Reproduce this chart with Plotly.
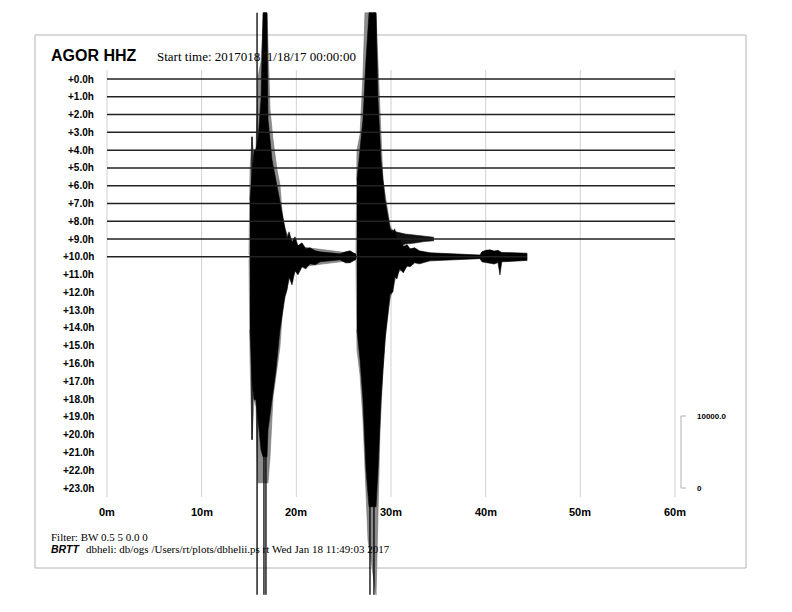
import plotly.graph_objects as go

# ---------------- data ----------------
station = "AGOR HHZ"
start_text = "Start time: 2017018\u00a0 1/18/17 00:00:00"
filter_text = "Filter: BW 0.5 5 0.0 0"
footer_bold = "BRTT"
footer_text = "dbheli: db/ogs /Users/rt/plots/dbhelii.ps rt Wed Jan 18 11:49:03 2017"

row_labels = ["+%.1fh" % h for h in range(24)]
x_ticks = [0, 10, 20, 30, 40, 50, 60]
x_tick_labels = ["0m", "10m", "20m", "30m", "40m", "50m", "60m"]

# each recorded row: start / end minute
row_start = [0] * 11
row_end = [60] * 10 + [44.37]

# scale bar (counts)
scale_counts = 10000.0
scale_labels = ["10000.0", "0"]

# row 10 outer (grey) envelope around the two events: minutes, up counts, down counts
g_t = [15.00, 15.11, 15.32, 15.53, 15.74, 15.95, 16.27, 16.58, 16.90, 17.01, 17.22,
       17.54, 17.96, 18.27, 18.59, 19.33, 20.39,
       26.30, 26.41, 26.73, 27.04, 27.25, 27.57, 28.42, 28.52, 28.84, 29.15, 29.47,
       29.89, 30.63, 32.01]
g_up = [280, 12080, 16670, 13470, 15280, 25000, 27080, 33890, 33890, 27780, 20420,
        16250, 12080, 10000, 4440, 2360, 1390,
        420, 14860, 16950, 25280, 33890, 33890, 33890, 30140, 19030, 10700, 7920,
        4440, 2080, 1110]
g_dn = [280, 14310, 25420, 19860, 20830, 31390, 31390, 31390, 31390, 31390, 27780,
        19450, 15700, 12500, 6250, 2780, 1390,
        420, 12920, 16390, 22640, 27780, 39310, 46950, 41670, 24030, 15700, 10140,
        5970, 2220, 1110]

# event 1 dense core + coda (black)
e1_t = [15.11, 15.32, 15.53, 15.74, 15.95, 16.27, 16.48, 16.90, 17.01, 17.43, 17.85,
        18.27, 18.80, 19.02, 19.23, 19.54, 19.86, 20.17, 20.60, 21.00, 21.44, 22.00,
        22.50, 24.61, 25.20, 25.67, 26.20, 26.30]
e1_up = [7920, 12080, 14860, 14860, 16250, 21810, 33890, 33890, 19030, 13470, 10700,
         7920, 4170, 2500, 3470, 2080, 2780, 1530, 1940, 1110, 1250, 830,
         690, 420, 690, 830, 420, 350]
e1_dn = [10140, 17080, 19860, 19860, 22640, 26810, 27780, 27780, 24030, 19860, 15700,
         10140, 5560, 4580, 2780, 3890, 1940, 2500, 1390, 1670, 970, 1110,
         690, 420, 830, 830, 420, 350]

# event 2 dense core + coda (black)
e2_t = [26.41, 26.73, 27.04, 27.36, 27.68, 28.42, 28.63, 28.94, 29.37, 29.89, 30.20,
        30.40, 30.63, 30.90, 31.30, 31.70, 32.01, 32.50, 33.00, 34.12, 37.61, 39.40,
        39.61, 40.00, 40.46, 40.90, 41.30, 41.51, 41.70, 42.04, 42.57, 43.30, 44.37]
e2_up = [10700, 14860, 19030, 27360, 33890, 33890, 21810, 13470, 7920, 4030, 3060,
         3890, 2080, 2500, 1390, 1670, 1110, 1250, 830, 560, 350, 250,
         700, 900, 970, 800, 900, 700, 600, 600, 560, 500, 500]
e2_dn = [10140, 14310, 19860, 29590, 34720, 34720, 29590, 19860, 11530, 5280, 4860,
         2780, 3060, 1670, 2220, 1250, 1390, 830, 970, 560, 350, 250,
         700, 800, 900, 1000, 800, 2500, 700, 700, 600, 600, 500]

# isolated full-height spikes (minutes, up counts, down counts)
sp_t = [15.32, 15.85, 16.58, 16.79, 27.78, 28.20]
sp_up = [16670, 33890, 33890, 33890, 33890, 33890]
sp_dn = [25420, 46950, 46950, 46950, 46950, 46950]

# row 9 coda
r9_t = [27.0, 28.0, 28.5, 29.5, 30.2, 30.6, 31.5, 32.5, 33.5, 34.5]
r9_up = [280, 1250, 1390, 1110, 1250, 970, 700, 560, 350, 250]
r9_dn = [280, 1250, 1250, 1250, 970, 1110, 700, 560, 350, 250]

# ---------------- geometry ----------------
W, H = 792, 612
px_per_min = 568 / 60.0
x0_px = 107
row0_px = 79
px_per_row = 409 / 23.0
counts_per_row = scale_counts / (72 / px_per_row)

x_range = [-x0_px / px_per_min, (W - x0_px) / px_per_min]
y_range = [(H - row0_px) / px_per_row, -row0_px / px_per_row]


def env(row, t, up, dn):
    xs = list(t) + list(t[::-1])
    ys = [row - u / counts_per_row for u in up] + [row + d / counts_per_row for d in dn[::-1]]
    return xs, ys


fig = go.Figure()

# grey outer envelope row 10
xs, ys = env(10, g_t, g_up, g_dn)
fig.add_trace(go.Scatter(x=xs, y=ys, fill="toself", fillcolor="#8c8c8c",
                         line=dict(color="#707070", width=0.6), mode="lines",
                         hoverinfo="skip", showlegend=False))
# row 9 coda
xs, ys = env(9, r9_t, r9_up, r9_dn)
fig.add_trace(go.Scatter(x=xs, y=ys, fill="toself", fillcolor="#111",
                         line=dict(color="#111", width=0.6), mode="lines",
                         hoverinfo="skip", showlegend=False))
# black cores
for t, u, d in [(e1_t, e1_up, e1_dn), (e2_t, e2_up, e2_dn)]:
    xs, ys = env(10, t, u, d)
    fig.add_trace(go.Scatter(x=xs, y=ys, fill="toself", fillcolor="#000",
                             line=dict(color="#000", width=0.6), mode="lines",
                             hoverinfo="skip", showlegend=False))
# isolated spikes
sx, sy = [], []
for t, u, d in zip(sp_t, sp_up, sp_dn):
    sx += [t, t, None]
    sy += [10 - u / counts_per_row, 10 + d / counts_per_row, None]
fig.add_trace(go.Scatter(x=sx, y=sy, mode="lines", line=dict(color="#000", width=1.3),
                         hoverinfo="skip", showlegend=False))

# baselines
bx, by = [], []
for r, (s, e) in enumerate(zip(row_start, row_end)):
    bx += [s, e, None]
    by += [r, r, None]
fig.add_trace(go.Scatter(x=bx, y=by, mode="lines", line=dict(color="#222", width=1.5),
                         hoverinfo="skip", showlegend=False))

shapes = []
# vertical gridlines
for t in x_ticks:
    shapes.append(dict(type="line", xref="x", yref="y", x0=t, x1=t,
                       y0=(70 - row0_px) / px_per_row, y1=(497 - row0_px) / px_per_row,
                       line=dict(color="#d2d2d2", width=1), layer="below"))
# frame
shapes.append(dict(type="rect", xref="paper", yref="paper",
                   x0=35 / W, x1=746 / W, y0=1 - 568 / H, y1=1 - 35 / H,
                   line=dict(color="#b4b4b4", width=1), layer="below"))
# scale bar
sb_x = (681 - x0_px) / px_per_min
sb_x2 = (686 - x0_px) / px_per_min
sb_top = 23 - scale_counts / counts_per_row
for seg in [(sb_x, 23, sb_x, sb_top), (sb_x, 23, sb_x2, 23), (sb_x, sb_top, sb_x2, sb_top)]:
    shapes.append(dict(type="line", xref="x", yref="y", x0=seg[0], y0=seg[1], x1=seg[2], y1=seg[3],
                       line=dict(color="#b0b0b0", width=1)))

ann = []
SANS = "Liberation Sans, Arial, sans-serif"
SERIF = "Liberation Serif, Times New Roman, serif"
lab_x = (96 - x0_px) / px_per_min
for r, lab in enumerate(row_labels):
    ann.append(dict(x=lab_x, y=r, xref="x", yref="y", text="<b>%s</b>" % lab, showarrow=False,
                    xanchor="right", yanchor="middle", font=dict(family=SANS, size=10, color="#000")))
tick_y = (512 - row0_px) / px_per_row
for t, lab in zip(x_ticks, x_tick_labels):
    ann.append(dict(x=t, y=tick_y, xref="x", yref="y", text="<b>%s</b>" % lab, showarrow=False,
                    xanchor="center", yanchor="middle", font=dict(family=SANS, size=11, color="#000")))
sl_x = (695 - x0_px) / px_per_min
for yv, lab in zip([sb_top, 23], scale_labels):
    ann.append(dict(x=sl_x, y=yv, xref="x", yref="y", text="<b>%s</b>" % lab, showarrow=False,
                    xanchor="left", yanchor="middle", font=dict(family=SANS, size=8, color="#000")))


def pann(x, y, text, font):
    ann.append(dict(x=x / W, y=1 - y / H, xref="paper", yref="paper", text=text, showarrow=False,
                    xanchor="left", yanchor="middle", font=font))


pann(49, 55, "<b>%s</b>" % station, dict(family=SANS, size=16, color="#000"))
pann(155, 56, start_text, dict(family=SERIF, size=13, color="#000"))
pann(49, 537, filter_text, dict(family=SERIF, size=11, color="#000"))
pann(49, 549, "<b><i>%s</i></b>" % footer_bold, dict(family=SANS, size=10.5, color="#000"))
pann(84, 549, footer_text, dict(family=SERIF, size=11, color="#000"))

fig.update_layout(
    width=W, height=H, autosize=False,
    margin=dict(l=0, r=0, t=0, b=0, pad=0),
    paper_bgcolor="white", plot_bgcolor="white",
    xaxis=dict(range=x_range, visible=False, domain=[0, 1], fixedrange=True),
    yaxis=dict(range=y_range, visible=False, domain=[0, 1], fixedrange=True),
    shapes=shapes, annotations=ann, showlegend=False,
)

fig.write_html("out.html", config={"displayModeBar": False},
               post_script="document.body.style.margin='0';")
